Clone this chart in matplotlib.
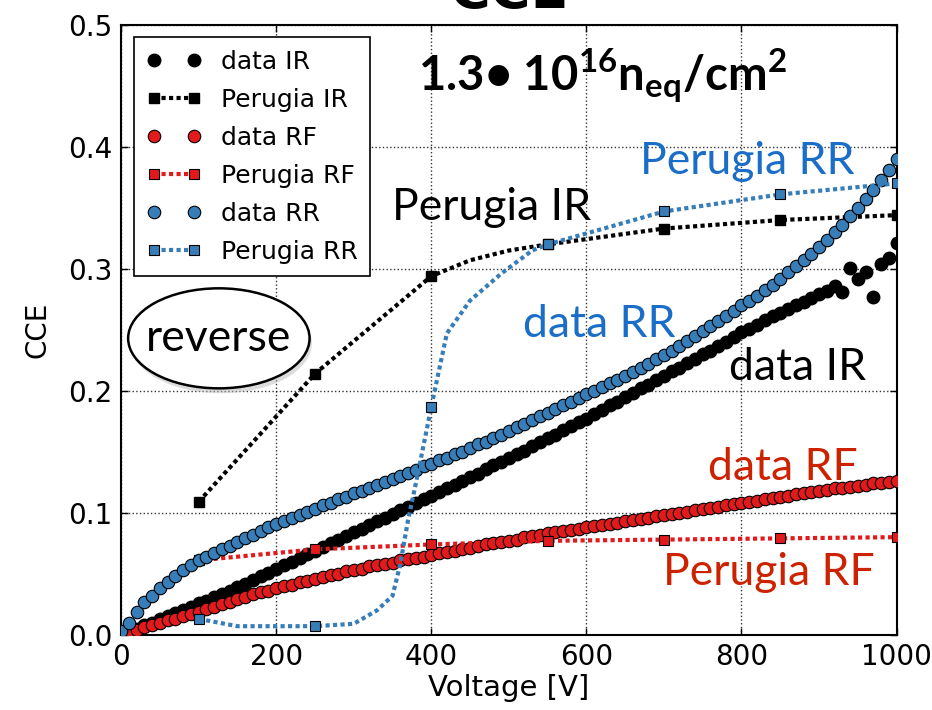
import matplotlib
matplotlib.use("Agg")
import matplotlib.pyplot as plt
from matplotlib.patches import Ellipse

# voltage scan, 10 V steps
voltage = list(range(0, 1001, 10))

cce_data_ir = [
    0.000, 0.003, 0.005, 0.008, 0.010, 0.013, 0.015, 0.018, 0.020, 0.023,
    0.026, 0.028, 0.031, 0.033, 0.036, 0.039, 0.042, 0.045, 0.048, 0.051,
    0.054, 0.057, 0.060, 0.063, 0.066, 0.069, 0.072, 0.075, 0.078, 0.081,
    0.084, 0.087, 0.090, 0.093, 0.096, 0.099, 0.102, 0.105, 0.108, 0.111,
    0.114, 0.117, 0.120, 0.123, 0.126, 0.129, 0.132, 0.136, 0.139, 0.142,
    0.145, 0.148, 0.151, 0.155, 0.158, 0.161, 0.164, 0.168, 0.171, 0.174,
    0.177, 0.181, 0.184, 0.188, 0.191, 0.195, 0.198, 0.202, 0.205, 0.209,
    0.212, 0.216, 0.219, 0.223, 0.226, 0.230, 0.233, 0.237, 0.240, 0.244,
    0.248, 0.251, 0.254, 0.258, 0.261, 0.264, 0.267, 0.270, 0.273, 0.276,
    0.279, 0.282, 0.286, 0.281, 0.301, 0.292, 0.297, 0.277, 0.304, 0.309,
    0.321,
]

cce_data_rf = [
    0.000, 0.002, 0.004, 0.006, 0.008, 0.010, 0.012, 0.013, 0.015, 0.017,
    0.019, 0.021, 0.023, 0.025, 0.027, 0.029, 0.031, 0.033, 0.035, 0.036,
    0.038, 0.040, 0.041, 0.043, 0.044, 0.046, 0.047, 0.049, 0.050, 0.052,
    0.053, 0.054, 0.056, 0.057, 0.058, 0.059, 0.061, 0.062, 0.063, 0.064,
    0.065, 0.067, 0.068, 0.069, 0.070, 0.071, 0.073, 0.074, 0.075, 0.076,
    0.077, 0.078, 0.080, 0.081, 0.082, 0.083, 0.084, 0.085, 0.086, 0.087,
    0.088, 0.089, 0.090, 0.091, 0.092, 0.093, 0.094, 0.095, 0.096, 0.097,
    0.098, 0.099, 0.100, 0.101, 0.102, 0.103, 0.104, 0.105, 0.106, 0.107,
    0.108, 0.109, 0.110, 0.111, 0.112, 0.113, 0.114, 0.115, 0.116, 0.117,
    0.118, 0.119, 0.120, 0.120, 0.121, 0.122, 0.123, 0.124, 0.124, 0.125,
    0.126,
]

cce_data_rr = [
    0.003, 0.010, 0.019, 0.027, 0.032, 0.038, 0.043, 0.048, 0.053, 0.057,
    0.061, 0.064, 0.067, 0.070, 0.073, 0.076, 0.079, 0.082, 0.085, 0.088,
    0.091, 0.093, 0.096, 0.098, 0.101, 0.103, 0.106, 0.108, 0.111, 0.113,
    0.116, 0.118, 0.120, 0.123, 0.125, 0.128, 0.130, 0.133, 0.135, 0.138,
    0.140, 0.143, 0.145, 0.148, 0.150, 0.153, 0.156, 0.158, 0.161, 0.164,
    0.167, 0.170, 0.173, 0.176, 0.179, 0.182, 0.185, 0.188, 0.191, 0.194,
    0.197, 0.200, 0.203, 0.206, 0.209, 0.212, 0.215, 0.219, 0.222, 0.226,
    0.229, 0.233, 0.237, 0.241, 0.245, 0.249, 0.253, 0.257, 0.261, 0.265,
    0.270, 0.274, 0.278, 0.283, 0.287, 0.292, 0.297, 0.302, 0.307, 0.312,
    0.318, 0.324, 0.330, 0.336, 0.343, 0.350, 0.357, 0.365, 0.373, 0.381,
    0.390,
]

# Perugia simulation curves
v_perugia_ir = [100, 250, 400, 450, 500, 550, 700, 850, 1000]
cce_perugia_ir = [0.109, 0.214, 0.294, 0.307, 0.315, 0.320, 0.333, 0.340, 0.344]
mark_perugia_ir = [0, 1, 2, 5, 6, 7, 8]

v_perugia_rf = [100, 250, 400, 550, 700, 850, 1000]
cce_perugia_rf = [0.061, 0.070, 0.074, 0.077, 0.078, 0.079, 0.080]

v_perugia_rr = [100, 150, 200, 250, 300, 330, 350, 360, 370, 380, 400,
                420, 450, 490, 530, 550, 700, 850, 1000]
cce_perugia_rr = [0.013, 0.007, 0.007, 0.007, 0.009, 0.020, 0.032, 0.058,
                  0.094, 0.124, 0.187, 0.247, 0.274, 0.296, 0.315, 0.320,
                  0.347, 0.361, 0.370]
mark_perugia_rr = [0, 3, 10, 15, 16, 17, 18]

c_red = '#e31a1c'
c_blue = '#377eb8'
dots = (0, (1, 0.8))

plt.rcParams['mathtext.fontset'] = 'custom'
plt.rcParams['mathtext.bf'] = 'Lato:bold'
plt.rcParams['mathtext.rm'] = 'Lato:bold'

fig = plt.figure(figsize=(9.32, 7.10), dpi=100)
ax = fig.add_axes([0.130, 0.106, 0.832, 0.859])

ax.plot(voltage, cce_data_ir, 'o', color='black', ms=9, mec='black',
        label='data IR', zorder=3)
ax.plot(v_perugia_ir, cce_perugia_ir, color='black', ls=dots, marker='s',
        lw=3, ms=7.5, mec='black', markevery=mark_perugia_ir,
        label='Perugia IR', zorder=3)
ax.plot(voltage, cce_data_rf, 'o', color=c_red, ms=9, mec='black', mew=0.8,
        label='data RF', zorder=3)
ax.plot(v_perugia_rf, cce_perugia_rf, color=c_red, ls=dots, marker='s',
        lw=3, ms=7.5, mec='black', mew=0.8, label='Perugia RF', zorder=3)
ax.plot(voltage, cce_data_rr, 'o', color=c_blue, ms=9, mec='black', mew=0.8,
        label='data RR', zorder=3)
ax.plot(v_perugia_rr, cce_perugia_rr, color=c_blue, ls=dots, marker='s',
        lw=3, ms=7.5, mec='black', mew=0.8, markevery=mark_perugia_rr,
        label='Perugia RR', zorder=3)

ax.set_xlim(0, 1000)
ax.set_ylim(0, 0.5)
ax.set_xticks([0, 200, 400, 600, 800, 1000])
ax.set_yticks([0.0, 0.1, 0.2, 0.3, 0.4, 0.5])
ax.tick_params(direction='in', top=True, right=True, labelsize=20,
               length=5, width=1, pad=6)
ax.grid(True, ls=':', color='black', lw=1, alpha=0.8)
for s in ax.spines.values():
    s.set_linewidth(1.5)
ax.set_xlabel('Voltage [V]', fontsize=21, labelpad=2)
ax.set_ylabel('CCE', fontsize=20, labelpad=12)
ax.set_title('CCE', fontsize=40, fontweight='bold', pad=13)

leg = ax.legend(loc='upper left', numpoints=2, fontsize=18, fancybox=False,
                edgecolor='black', framealpha=1, borderaxespad=0.5,
                handlelength=2.2, labelspacing=0.56, borderpad=0.5)
leg.get_frame().set_linewidth(1.2)

fam = 'Lato'
ax.text(621, 0.459, r'1.3• 10$^{\mathbf{16}}$n$_{\mathbf{eq}}$/cm$^{\mathbf{2}}$',
        fontsize=34, fontweight='bold', family=fam, ha='center', va='center')
ax.text(478, 0.350, 'Perugia IR', fontsize=32, family=fam, color='black',
        ha='center', va='center')
ax.text(807, 0.388, 'Perugia RR', fontsize=32, family=fam, color='#1a6ec8',
        ha='center', va='center')
ax.text(617, 0.254, 'data RR', fontsize=32, family=fam, color='#1a6ec8',
        ha='center', va='center')
ax.text(872, 0.219, 'data IR', fontsize=32, family=fam, color='black',
        ha='center', va='center')
ax.text(853, 0.137, 'data RF', fontsize=32, family=fam, color='#cc2200',
        ha='center', va='center')
ax.text(835, 0.051, 'Perugia RF', fontsize=32, family=fam, color='#cc2200',
        ha='center', va='center')

# ellipse label with a soft shadow
ax.add_patch(Ellipse((129, 0.239), 234, 0.082, fc='#bbbbbb', ec='none',
                     alpha=0.5, zorder=4))
ax.add_patch(Ellipse((126, 0.243), 234, 0.082, fc='white', ec='black',
                     lw=1.8, zorder=5))
ax.text(126, 0.243, 'reverse', fontsize=32, family=fam, color='black',
        ha='center', va='center', zorder=6)

fig.savefig('out.png', dpi=100)
